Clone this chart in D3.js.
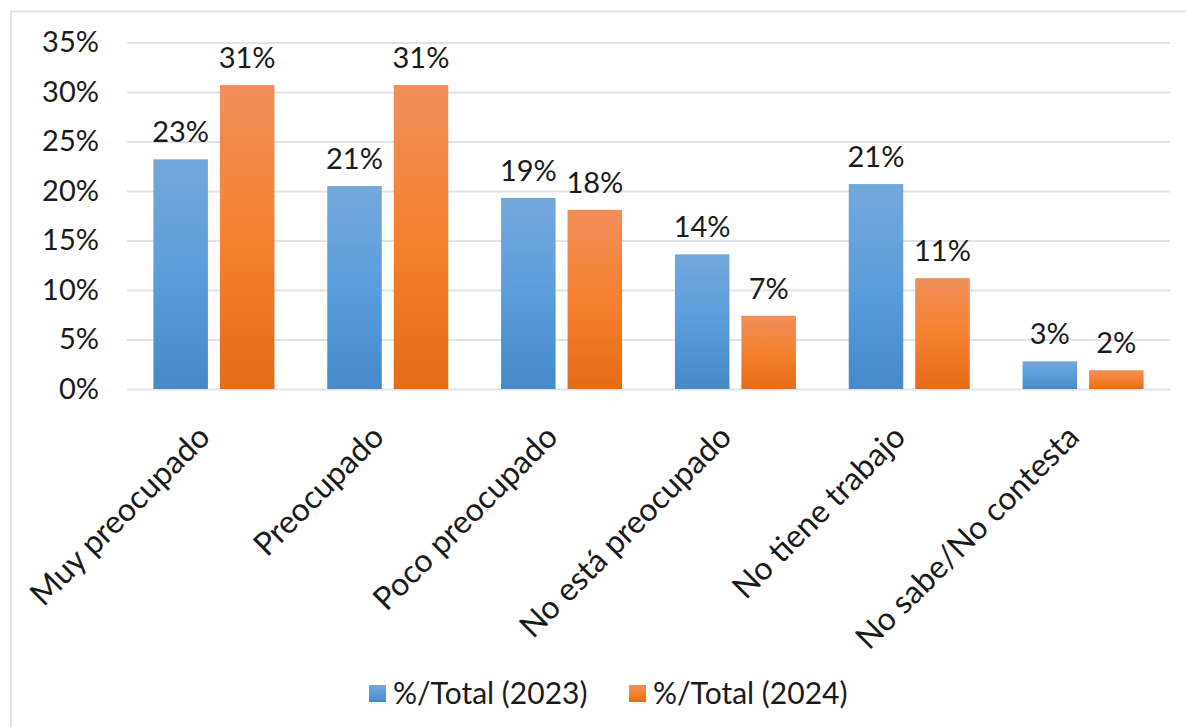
<!DOCTYPE html>
<html>
<head>
<meta charset="utf-8">
<script src="https://cdn.jsdelivr.net/npm/d3@7"></script>
<style>
  html, body { margin: 0; padding: 0; background: #ffffff; }
  svg { display: block; }
  text { font-family: "Century Gothic", Lato, "Open Sans", sans-serif; fill: #1a1a1a; }
</style>
</head>
<body>
<svg id="chart" width="1186" height="727"></svg>
<script>
const categories = ["Muy preocupado", "Preocupado", "Poco preocupado", "No está preocupado", "No tiene trabajo", "No sabe/No contesta"];
const seriesNames = ["%/Total (2023)", "%/Total (2024)"];
const values2023 = [0.232, 0.205, 0.193, 0.136, 0.207, 0.028];
const values2024 = [0.307, 0.307, 0.181, 0.074, 0.112, 0.019];
const labels2023 = ["23%", "21%", "19%", "14%", "21%", "3%"];
const labels2024 = ["31%", "31%", "18%", "7%", "11%", "2%"];
const yTicks = [0, 0.05, 0.10, 0.15, 0.20, 0.25, 0.30, 0.35];

const seriesValues = [values2023, values2024];
const seriesLabels = [labels2023, labels2024];
const gradIds = ["gBlue", "gOrange"];

const svg = d3.select("#chart");
const W = 1186, H = 727;
const plot = { left: 127, right: 1170, top: 42.5, bottom: 389 };

// gradients
const defs = svg.append("defs");
const gb = defs.append("linearGradient").attr("id", "gBlue").attr("x1", 0).attr("y1", 0).attr("x2", 0).attr("y2", 1);
gb.append("stop").attr("offset", "0%").attr("stop-color", "#74a8dc");
gb.append("stop").attr("offset", "50%").attr("stop-color", "#5a9ddb");
gb.append("stop").attr("offset", "100%").attr("stop-color", "#4589c8");
const go = defs.append("linearGradient").attr("id", "gOrange").attr("x1", 0).attr("y1", 0).attr("x2", 0).attr("y2", 1);
go.append("stop").attr("offset", "0%").attr("stop-color", "#f08e5a");
go.append("stop").attr("offset", "50%").attr("stop-color", "#f5812f");
go.append("stop").attr("offset", "100%").attr("stop-color", "#e56b18");

// frame (left and top edges visible)
svg.append("line").attr("x1", 11).attr("x2", W).attr("y1", 11.5).attr("y2", 11.5)
  .attr("stroke", "#dde2ea").attr("stroke-width", 2);
svg.append("line").attr("x1", 11).attr("x2", 11).attr("y1", 11).attr("y2", H)
  .attr("stroke", "#dde2ea").attr("stroke-width", 2);

const y = d3.scaleLinear().domain([0, 0.35]).range([plot.bottom, plot.top]);
const x0 = d3.scaleBand().domain(categories).range([plot.left, plot.right]).paddingInner(0).paddingOuter(0);
const x1 = d3.scaleBand().domain([0, 1]).range([0, x0.bandwidth()]).paddingInner(0.18).paddingOuter(0.397);

// grid
const yAxis = d3.axisLeft(y).tickValues(yTicks).tickSize(-(plot.right - plot.left)).tickFormat(d => Math.round(d * 100) + "%").tickPadding(28);
const ga = svg.append("g").attr("transform", `translate(${plot.left},0)`).call(yAxis);
ga.select(".domain").remove();
ga.selectAll(".tick line").attr("stroke", "#dfe3ea").attr("stroke-width", 2);
ga.selectAll(".tick text").attr("font-size", 29).attr("fill", "#1a1a1a")
  .attr("font-family", '"Century Gothic", Lato, "Open Sans", sans-serif');

// bars
seriesValues.forEach((vals, si) => {
  const g = svg.append("g");
  g.selectAll("rect").data(vals).join("rect")
    .attr("x", (d, i) => x0(categories[i]) + x1(si))
    .attr("width", x1.bandwidth())
    .attr("y", d => y(d))
    .attr("height", d => y(0) - y(d))
    .attr("fill", `url(#${gradIds[si]})`);
  g.selectAll("text").data(vals).join("text")
    .attr("x", (d, i) => x0(categories[i]) + x1(si) + x1.bandwidth() / 2)
    .attr("y", d => y(d) - 17)
    .attr("text-anchor", "middle")
    .attr("font-size", 29)
    .text((d, i) => seriesLabels[si][i]);
});

// category labels
svg.append("g").selectAll("text").data(categories).join("text")
  .attr("transform", d => `translate(${x0(d) + x0.bandwidth() / 2 - 2},439) rotate(-45)`)
  .attr("text-anchor", "end")
  .attr("font-size", 32)
  .text(d => d);

// legend
const legendX = [369, 629];
const lg = svg.append("g");
seriesNames.forEach((name, i) => {
  lg.append("rect").attr("x", legendX[i]).attr("y", 685).attr("width", 17).attr("height", 17)
    .attr("fill", `url(#${gradIds[i]})`);
  lg.append("text").attr("x", legendX[i] + 24).attr("y", 704).attr("font-size", 30).text(name);
});
</script>
</body>
</html>
